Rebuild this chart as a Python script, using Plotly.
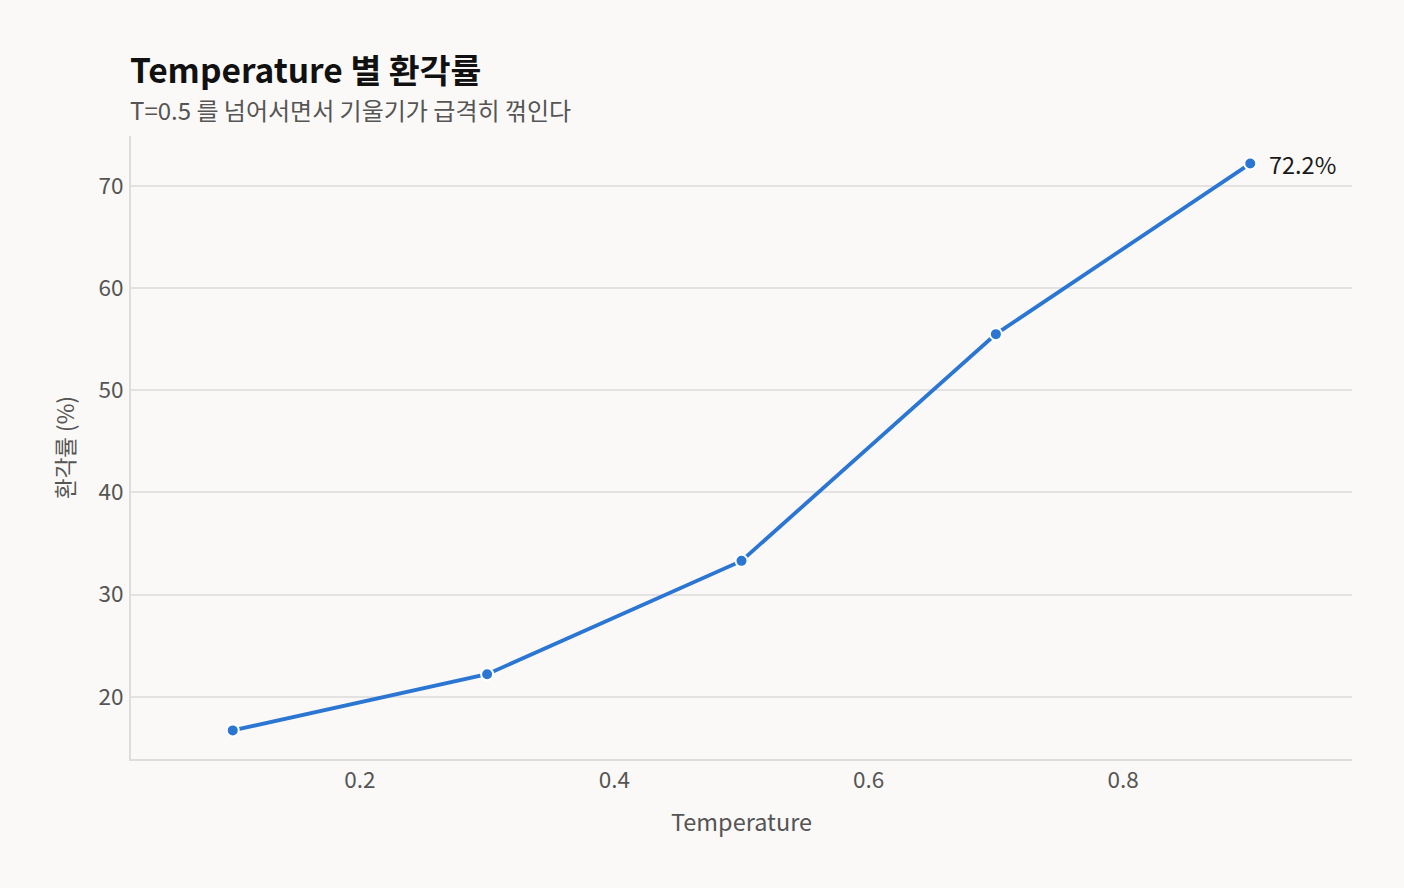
import plotly.graph_objects as go

# ---data--- #
temps = [0.1, 0.3, 0.5, 0.7, 0.9]
halluc_rate = [16.7, 22.2, 33.3, 55.5, 72.2]
last_label = "72.2%"

FONT = "Noto Sans CJK KR"
BG = "#faf9f7"
BLUE = "#2b76d2"

fig = go.Figure()
fig.add_trace(go.Scatter(
    x=temps, y=halluc_rate,
    mode="lines+markers",
    line=dict(color=BLUE, width=3.8),
    marker=dict(size=12, color=BLUE, line=dict(color="white", width=2)),
    showlegend=False,
    cliponaxis=False,
))

fig.update_layout(
    width=1404, height=888,
    paper_bgcolor=BG, plot_bgcolor=BG,
    font=dict(family=FONT, color="#555555", size=22),
    margin=dict(l=131, r=52, t=136, b=129),
    annotations=[
        dict(text="<b>Temperature 별 환각률</b>", xref="paper", yref="paper",
             x=0, y=1.109, xanchor="left", yanchor="middle", showarrow=False, xshift=-3,
             font=dict(size=33.5, color="#111111", family=FONT)),
        dict(text="T=0.5 를 넘어서면서 기울기가 급격히 꺾인다", xref="paper", yref="paper",
             x=0, y=1.042, xanchor="left", yanchor="middle", showarrow=False, xshift=-3,
             font=dict(size=24, color="#555555", family=FONT)),
        dict(text=last_label, x=temps[-1], y=halluc_rate[-1], xref="x", yref="y",
             xanchor="left", yanchor="middle", xshift=17, showarrow=False,
             font=dict(size=23.5, color="#1a1a1a", family=FONT)),
    ],
)
fig.update_xaxes(
    range=[0.02, 0.98], tickvals=[0.2, 0.4, 0.6, 0.8], ticktext=["0.2", "0.4", "0.6", "0.8"],
    showgrid=False, zeroline=False, showline=True, linecolor="#dddddd", linewidth=2,
    ticks="", ticklabelstandoff=0,
    title=dict(text="Temperature", font=dict(size=23.5, color="#555555"), standoff=22),
    tickfont=dict(size=22.5, color="#555555"),
)
fig.update_yaxes(
    range=[13.9, 74.9], tickvals=[20, 30, 40, 50, 60, 70],
    showgrid=True, gridcolor="#e3e2e0", gridwidth=1.5, zeroline=False,
    showline=True, linecolor="#dddddd", linewidth=2, ticks="", ticklabelstandoff=1,
    title=dict(text="환각률 (%)", font=dict(size=22.5, color="#555555"), standoff=18),
    tickfont=dict(size=22.5, color="#555555"),
)

fig.write_html("out.html", config={"displayModeBar": False},
               post_script="document.body.style.margin='0';")
